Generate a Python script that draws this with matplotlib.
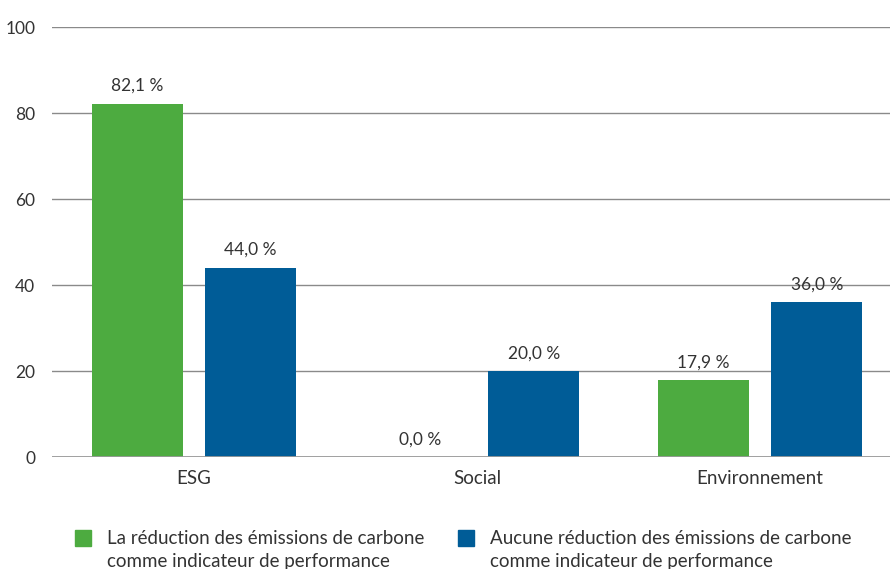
import matplotlib
matplotlib.use('Agg')
import matplotlib.pyplot as plt
from matplotlib.patches import Rectangle
import numpy as np

categories = ['ESG', 'Social', 'Environnement']
reduction = [82.1, 0.0, 17.9]
aucune = [44.0, 20.0, 36.0]
series_labels = ['La réduction des émissions de carbone\ncomme indicateur de performance',
                 'Aucune réduction des émissions de carbone\ncomme indicateur de performance']
yticks = [0, 20, 40, 60, 80, 100]

green = '#4dab40'
blue = '#005c97'
txt = '#333333'

plt.rcParams['font.family'] = ['Lato', 'DejaVu Sans']

fig = plt.figure(figsize=(8.9, 5.69), dpi=100)
ax = fig.add_axes([0.0584, 0.1968, 0.9416, 0.7557])

x = np.arange(len(categories))
w = 0.322
ax.bar(x - 0.2, reduction, w, color=green, zorder=3)
ax.bar(x + 0.2, aucune, w, color=blue, zorder=3)

def fmt(v):
    return ('%.1f' % v).replace('.', ',') + ' %'

for xi, v in zip(x, reduction):
    ax.text(xi - 0.2, v + 2.3, fmt(v), ha='center', va='bottom', fontsize=12.5, color=txt)
for xi, v in zip(x, aucune):
    ax.text(xi + 0.2, v + 2.3, fmt(v), ha='center', va='bottom', fontsize=12.5, color=txt)

ax.set_xlim(-0.502, 2.459)
ax.set_ylim(0, 100)
ax.set_yticks(yticks)
ax.set_yticklabels([str(t) for t in yticks], fontsize=12.5, color=txt)
ax.set_xticks(x)
ax.set_xticklabels(categories, fontsize=13.5, color=txt)
ax.tick_params(axis='both', length=0)
ax.tick_params(axis='y', pad=12)
ax.tick_params(axis='x', pad=9)
ax.grid(axis='y', color='#8a8a8a', linewidth=1, zorder=0)
for s in ax.spines.values():
    s.set_visible(False)
ax.axhline(0, color='#9a9a9a', linewidth=2, zorder=4)

# legende
for px, col, lab in [(75, green, series_labels[0]), (458, blue, series_labels[1])]:
    fig.patches.append(Rectangle((px / 890, (569 - 546) / 569), 16 / 890, 16 / 569,
                                 transform=fig.transFigure, color=col, figure=fig))
    fig.text((px + 32) / 890, (569 - 530) / 569, lab, fontsize=13.5, color=txt,
             va='top', ha='left', linespacing=1.4)

fig.savefig('out.png', dpi=100)
